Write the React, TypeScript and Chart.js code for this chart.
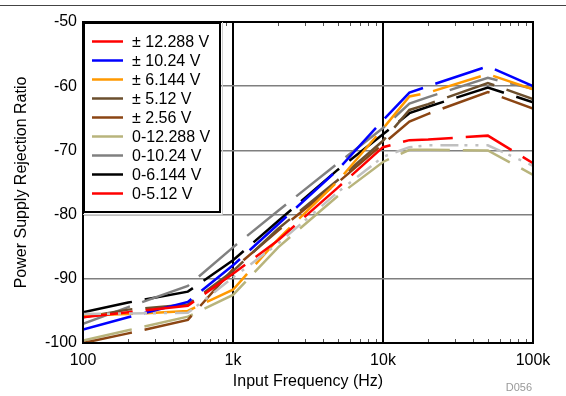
import React, { useEffect, useRef } from 'react';
import { Chart, registerables } from 'chart.js';

Chart.register(...registerables);

// Frequencies (Hz) of the data points
const frequencies = [100, 200, 500, 1000, 2000, 5000, 10000, 15000, 20000, 50000, 100000];

// Legend labels
const seriesNames = ['± 12.288 V', '± 10.24 V', '± 6.144 V', '± 5.12 V', '± 2.56 V', '0-12.288 V', '0-10.24 V', '0-6.144 V', '0-5.12 V'];

// PSRR values (dB)
const pm12288 = [-96.0, -95.2, -94.2, -89.2, -84.0, -75.8, -69.5, -68.4, -68.3, -67.7, -72.0];
const pm1024 = [-97.9, -96.0, -93.6, -87.9, -81.5, -73.0, -65.3, -61.0, -60.0, -56.9, -60.0];
const pm6144 = [-95.7, -95.5, -95.0, -91.7, -83.8, -74.8, -66.6, -61.6, -61.0, -58.1, -60.5];
const pm512 = [-96.0, -94.8, -94.0, -88.8, -82.2, -74.6, -68.5, -63.7, -62.8, -59.5, -62.0];
const pm256 = [-100.0, -98.5, -96.4, -88.5, -82.5, -75.0, -69.0, -65.5, -64.3, -60.9, -63.5];
const u12288 = [-99.6, -98.0, -95.9, -92.5, -85.1, -77.1, -71.8, -69.9, -69.9, -70.0, -73.8];
const u1024 = [-97.0, -94.4, -91.1, -85.1, -79.4, -72.0, -66.5, -62.7, -61.7, -58.7, -60.4];
const u6144 = [-95.2, -93.7, -92.0, -87.1, -81.0, -73.0, -67.5, -64.2, -63.2, -60.2, -62.5];
const u512 = [-95.5, -95.4, -95.3, -89.8, -84.5, -76.5, -71.0, -69.5, -69.2, -69.2, -72.4];

const seriesValues = [pm12288, pm1024, pm6144, pm512, pm256, u12288, u1024, u6144, u512];

const lineColors = ['#ff0000', '#0000ff', '#ff9900', '#6b4f2e', '#8b4513', '#b8b47c', '#808080', '#000000', '#c0c0c0'];
const legendColors = ['#ff0000', '#0000ff', '#ff9900', '#6b4f2e', '#8b4513', '#b8b47c', '#808080', '#000000', '#ff0000'];

const xTickValues = [100, 1000, 10000, 100000];
const xTickLabels = ['100', '1k', '10k', '100k'];

const FONT = "'Liberation Sans', Arial, Helvetica, sans-serif";

const decorPlugin = {
  id: 'decor',
  afterDatasetsDraw(chart: any) {
    const ctx = chart.ctx as CanvasRenderingContext2D;
    const { left, right, top, bottom } = chart.chartArea;
    const xs = chart.scales.x;
    ctx.save();
    // minor ticks
    ctx.strokeStyle = '#555';
    ctx.lineWidth = 1;
    for (const d of [100, 1000, 10000]) {
      for (let k = 2; k <= 9; k++) {
        const px = Math.round(xs.getPixelForValue(d * k)) + 0.5;
        ctx.beginPath();
        ctx.moveTo(px, bottom);
        ctx.lineTo(px, bottom - 4);
        ctx.moveTo(px, top);
        ctx.lineTo(px, top + 4);
        ctx.stroke();
      }
    }
    // frame
    ctx.strokeStyle = '#000';
    ctx.lineWidth = 2;
    ctx.strokeRect(left, top, right - left, bottom - top);

    // legend
    const lx = left, ly = top, lw = 138, lh = 191;
    ctx.fillStyle = '#ffffff';
    ctx.fillRect(lx, ly, lw, lh);
    ctx.strokeStyle = '#d0d0d0';
    ctx.lineWidth = 1;
    ctx.beginPath();
    ctx.moveTo(lx + lw + 1.5, ly);
    ctx.lineTo(lx + lw + 1.5, ly + lh + 1.5);
    ctx.lineTo(lx, ly + lh + 1.5);
    ctx.stroke();
    ctx.strokeStyle = '#000';
    ctx.lineWidth = 2;
    ctx.strokeRect(lx + 1, ly + 1, lw - 2, lh - 2);
    ctx.font = `16px ${FONT}`;
    ctx.textBaseline = 'middle';
    ctx.textAlign = 'left';
    seriesNames.forEach((name, i) => {
      const y = ly + 19.5 + i * 19;
      ctx.strokeStyle = legendColors[i];
      ctx.lineWidth = 2.5;
      ctx.setLineDash([]);
      ctx.beginPath();
      ctx.moveTo(lx + 9, y);
      ctx.lineTo(lx + 40, y);
      ctx.stroke();
      ctx.fillStyle = '#000';
      ctx.fillText(name, lx + 49, y + 1);
    });
    ctx.restore();
  },
  afterDraw(chart: any) {
    const ctx = chart.ctx as CanvasRenderingContext2D;
    ctx.save();
    ctx.strokeStyle = '#444';
    ctx.lineWidth = 1;
    ctx.beginPath();
    ctx.moveTo(0, 5.5);
    ctx.lineTo(chart.width, 5.5);
    ctx.stroke();
    ctx.fillStyle = '#999';
    ctx.font = `11px ${FONT}`;
    ctx.textAlign = 'right';
    ctx.textBaseline = 'middle';
    ctx.fillText('D056', 532, 388);
    ctx.restore();
  },
};

export default function App() {
  const canvasRef = useRef<HTMLCanvasElement | null>(null);

  useEffect(() => {
    const canvas = canvasRef.current;
    if (!canvas) return;
    const datasets = seriesValues.map((vals, i) => ({
      label: seriesNames[i],
      data: frequencies.map((f, j) => ({ x: f, y: vals[j] })),
      borderColor: lineColors[i],
      backgroundColor: lineColors[i],
      borderWidth: 2.5,
      borderDash: i === 8 ? [18, 6, 3, 8, 3, 8] : [50, 13],
      borderCapStyle: 'butt',
      pointRadius: 0,
      pointHoverRadius: 0,
      tension: 0,
      fill: false,
      order: i === 8 ? 0 : i + 1,
    }));

    const chart = new Chart(canvas, {
      type: 'line',
      data: { datasets } as any,
      options: {
        responsive: false,
        animation: false,
        devicePixelRatio: 1,
        layout: { padding: { left: 0, right: 33, top: 22, bottom: 0 } },
        plugins: {
          legend: { display: false },
          tooltip: { enabled: false },
        },
        scales: {
          x: {
            type: 'logarithmic',
            min: 100,
            max: 100000,
            afterBuildTicks: (scale: any) => {
              scale.ticks = xTickValues.map((v) => ({ value: v }));
            },
            afterFit: (scale: any) => {
              scale.height = 53;
            },
            ticks: {
              autoSkip: false,
              maxRotation: 0,
              padding: 8,
              color: '#000',
              font: { family: FONT, size: 16 },
              callback: (v: any) => {
                const idx = xTickValues.indexOf(Number(v));
                return idx >= 0 ? xTickLabels[idx] : '';
              },
            },
            grid: {
              drawTicks: false,
              color: (c: any) => (c.tick && (c.tick.value === 1000 || c.tick.value === 10000) ? '#000' : 'rgba(0,0,0,0)'),
              lineWidth: 2,
            },
            border: { display: false },
            title: {
              display: true,
              text: 'Input Frequency (Hz)',
              color: '#000',
              font: { family: FONT, size: 16 },
              padding: { top: 0, bottom: 5 },
            },
          },
          y: {
            min: -100,
            max: -50,
            afterFit: (scale: any) => {
              scale.width = 83;
            },
            ticks: {
              stepSize: 10,
              padding: 6,
              color: '#000',
              font: { family: FONT, size: 16 },
            },
            grid: {
              drawTicks: false,
              color: (c: any) => (c.tick && (c.tick.value === -50 || c.tick.value === -100) ? 'rgba(0,0,0,0)' : '#7f7f7f'),
              lineWidth: 1.5,
            },
            border: { display: false },
            title: {
              display: true,
              text: 'Power Supply Rejection Ratio',
              color: '#000',
              font: { family: FONT, size: 16 },
              padding: { top: 12, bottom: 0 },
            },
          },
        },
      } as any,
      plugins: [decorPlugin],
    });
    return () => chart.destroy();
  }, []);

  return (
    <div style={{ position: 'fixed', left: 0, top: 0, width: 566, height: 396, background: '#fff' }}>
      <canvas ref={canvasRef} width={566} height={396} style={{ display: 'block' }} />
    </div>
  );
}
